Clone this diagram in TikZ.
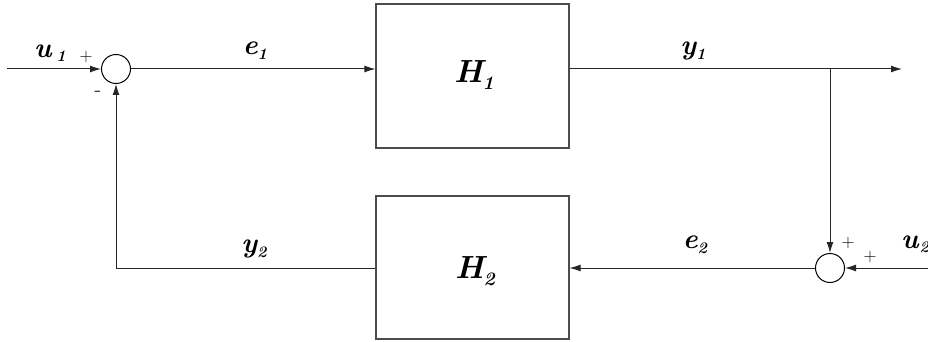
\documentclass[tikz,border=0pt]{standalone}
\usetikzlibrary{arrows.meta}
\newcommand{\sigsub}[2]{\raisebox{-#1}{\fontsize{16}{16}\selectfont\bfseries\itshape #2}}
\newcommand{\hsub}[1]{\raisebox{-7pt}{\fontsize{19}{19}\selectfont\bfseries\itshape #1}}
\begin{document}
\begin{tikzpicture}[x=1pt,y=-1pt,
  wire/.style={draw=black!85, line width=1pt},
  arr/.style={wire, -{Latex[length=11pt,width=7pt]}},
  sumc/.style={circle, draw=black, line width=1pt, minimum size=29pt, inner sep=0pt},
  blk/.style={draw=black!70, line width=1.1pt, minimum width=193pt, inner sep=0pt},
  lbl/.style={font=\fontsize{28}{28}\selectfont\bfseries\itshape, inner sep=0pt, anchor=base},
  hlbl/.style={font=\fontsize{32}{32}\selectfont\bfseries\itshape, inner sep=0pt, anchor=base},
  sgn/.style={font=\fontsize{18}{18}\selectfont, inner sep=0pt}
]
\useasboundingbox (0,0) rectangle (928,342);
% blocks
\node[blk, minimum height=144pt] (h1) at (472.5,76) {};
\node[blk, minimum height=143pt] (h2) at (472.5,267.5) {};
\node[hlbl] (h1t) at (474,83) {H\hsub{1}};
\node[hlbl] (h2t) at (475,278) {H\hsub{2}};
% summing junctions
\node[sumc] (s1) at (116,69) {};
\node[sumc] (s2) at (830,268) {};
% coordinates
\coordinate (in1) at (7,69);
\coordinate (out) at (902,69);
\coordinate (br) at (830,69);
\coordinate (in2) at (928,268);
% connectors
\draw[arr] (in1) -- (s1);
\draw[arr] (s1) -- (s1 -| h1.west);
\draw[arr] (h1.east |- s1) -- (out);
\draw[arr] (br) -- (s2);
\draw[arr] (in2) -- (s2);
\draw[arr] (s2) -- (s2 -| h2.east);
\draw[arr] (h2.west |- s2) -| (s1);
% signal labels
\node[lbl] (lu1) at (50,58) {u\,\sigsub{4pt}{1}};
\node[lbl] (le1) at (255,55) {e\sigsub{5pt}{1}};
\node[lbl] (ly1) at (693,55) {y\sigsub{5pt}{1}};
\node[lbl] (ly2) at (254,252) {y\sigsub{5pt}{2}};
\node[lbl] (le2) at (695,248) {e\sigsub{5pt}{2}};
\node[lbl, anchor=base west] (lu2) at (901,248) {u\kern1pt\sigsub{4pt}{2}};
% signs
\node[sgn] (p1) at (86,57) {+};
\node[sgn, font=\fontsize{22}{22}\selectfont] (m1) at (98,94) {-};
\node[sgn] (p2) at (848,243) {+};
\node[sgn] (p3) at (870,257) {+};
\end{tikzpicture}
\end{document}
